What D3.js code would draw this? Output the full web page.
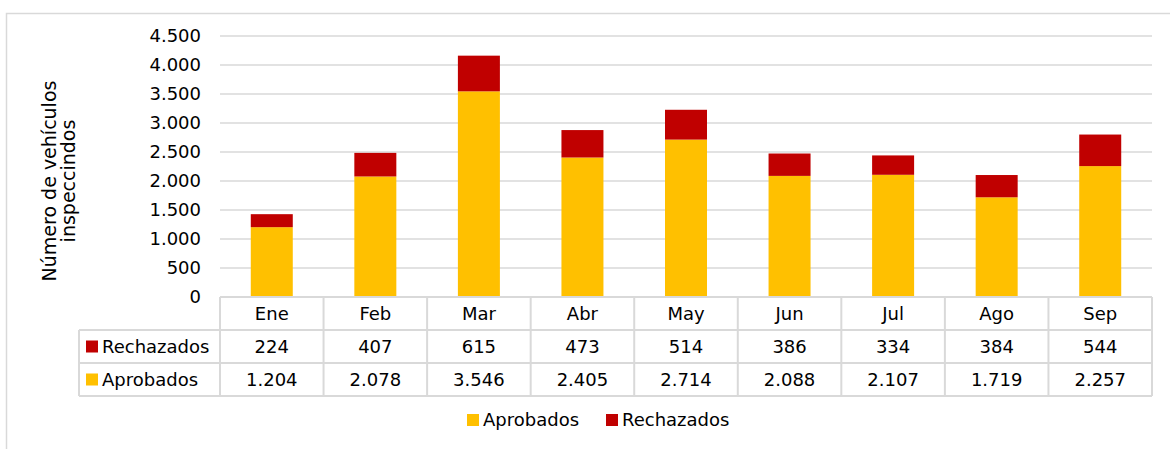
<!DOCTYPE html>
<html>
<head>
<meta charset="utf-8">
<script src="https://cdn.jsdelivr.net/npm/d3@7"></script>
<style>
  body { margin: 0; background: #fff; }
  text { font-family: "DejaVu Sans", sans-serif; fill: #000; }
</style>
</head>
<body>
<div id="chart"></div>
<script>
const months = ["Ene", "Feb", "Mar", "Abr", "May", "Jun", "Jul", "Ago", "Sep"]
const aprobados = [1204, 2078, 3546, 2405, 2714, 2088, 2107, 1719, 2257]
const rechazados = [224, 407, 615, 473, 514, 386, 334, 384, 544]
const yTicks = [0, 500, 1000, 1500, 2000, 2500, 3000, 3500, 4000, 4500]

const width = 1170, height = 449
const plot = { left: 220, right: 1152, top: 36, bottom: 297 }
const gridColor = "#d9d9d9"
const colAprob = "#ffc000", colRech = "#c00000"
const fmt = d3.formatLocale({ decimal: ",", thousands: ".", grouping: [3] }).format(",d")

let svg = d3.select("#chart").append("svg")
    .attr("width", width)
    .attr("height", height)

// outer frame
svg.append("rect")
    .attr("x", 6.5).attr("y", 13.5)
    .attr("width", 1200).attr("height", 500)
    .attr("fill", "none").attr("stroke", gridColor).attr("stroke-width", 1.5)

let x = d3.scaleBand().domain(months).range([plot.left, plot.right]).paddingInner(0).paddingOuter(0)
let y = d3.scaleLinear().domain([0, 4500]).range([plot.bottom, plot.top])

// gridlines
svg.append("g").selectAll("line")
    .data(yTicks.filter(d => d > 0))
    .enter().append("line")
    .attr("x1", plot.left).attr("x2", plot.right)
    .attr("y1", d => y(d)).attr("y2", d => y(d))
    .attr("stroke", gridColor).attr("stroke-width", 1.5)

// y tick labels
svg.append("g").selectAll("text")
    .data(yTicks)
    .enter().append("text")
    .attr("x", 201)
    .attr("y", d => y(d))
    .attr("dy", "0.35em")
    .attr("text-anchor", "end")
    .style("font-size", "18px")
    .text(d => fmt(d))

// y axis title
let yTitle = svg.append("text")
    .attr("transform", "translate(59,181) rotate(-90)")
    .attr("text-anchor", "middle")
    .style("font-size", "19px")
yTitle.append("tspan").attr("x", 0).attr("dy", "-0.15em").text("Número de vehículos")
yTitle.append("tspan").attr("x", 0).attr("dy", "1.0em").text("inspeccindos")

// bars
const barW = 42
let stacked = months.map((m, i) => ({ m, a: aprobados[i], r: rechazados[i] }))

svg.append("g").selectAll("rect")
    .data(stacked)
    .enter().append("rect")
    .attr("x", d => x(d.m) + x.bandwidth() / 2 - barW / 2)
    .attr("width", barW)
    .attr("y", d => y(d.a))
    .attr("height", d => y(0) - y(d.a))
    .attr("fill", colAprob)

svg.append("g").selectAll("rect")
    .data(stacked)
    .enter().append("rect")
    .attr("x", d => x(d.m) + x.bandwidth() / 2 - barW / 2)
    .attr("width", barW)
    .attr("y", d => y(d.a + d.r))
    .attr("height", d => y(d.a) - y(d.a + d.r))
    .attr("fill", colRech)

// data table
const rowTop = 297, rowH = 33, tableLeft = 79
let tbl = svg.append("g")
let rows = [
  { name: "Rechazados", vals: rechazados, color: colRech },
  { name: "Aprobados", vals: aprobados, color: colAprob }
]
let tableBottom = rowTop + rowH * 3

// horizontal lines
tbl.append("line").attr("x1", plot.left).attr("x2", plot.right)
    .attr("y1", rowTop).attr("y2", rowTop)
    .attr("stroke", gridColor).attr("stroke-width", 2)
;[1, 2, 3].forEach(k => {
  tbl.append("line").attr("x1", tableLeft).attr("x2", plot.right)
      .attr("y1", rowTop + rowH * k).attr("y2", rowTop + rowH * k)
      .attr("stroke", gridColor).attr("stroke-width", 2)
})
// vertical lines
tbl.append("line").attr("x1", tableLeft).attr("x2", tableLeft)
    .attr("y1", rowTop + rowH).attr("y2", tableBottom)
    .attr("stroke", gridColor).attr("stroke-width", 2)
months.forEach(m => {
  tbl.append("line").attr("x1", x(m)).attr("x2", x(m))
      .attr("y1", rowTop).attr("y2", tableBottom)
      .attr("stroke", gridColor).attr("stroke-width", 2)
})
tbl.append("line").attr("x1", plot.right).attr("x2", plot.right)
    .attr("y1", rowTop).attr("y2", tableBottom)
    .attr("stroke", gridColor).attr("stroke-width", 2)

// header
tbl.selectAll("text.head")
    .data(months)
    .enter().append("text")
    .attr("class", "head")
    .attr("x", d => x(d) + x.bandwidth() / 2)
    .attr("y", rowTop + rowH / 2)
    .attr("dy", "0.35em")
    .attr("text-anchor", "middle")
    .style("font-size", "18px")
    .text(d => d)

rows.forEach((r, k) => {
  let cy = rowTop + rowH * (k + 1) + rowH / 2
  tbl.append("rect")
      .attr("x", 86).attr("y", cy - 6)
      .attr("width", 12).attr("height", 12)
      .attr("fill", r.color)
  tbl.append("text")
      .attr("x", 102).attr("y", cy)
      .attr("dy", "0.35em")
      .style("font-size", "18px")
      .text(r.name)
  tbl.selectAll("text.v" + k)
      .data(r.vals)
      .enter().append("text")
      .attr("class", "v" + k)
      .attr("x", (d, i) => x(months[i]) + x.bandwidth() / 2)
      .attr("y", cy)
      .attr("dy", "0.35em")
      .attr("text-anchor", "middle")
      .style("font-size", "18px")
      .text(d => fmt(d))
})

// legend
let legend = [
  { name: "Aprobados", color: colAprob, x: 467 },
  { name: "Rechazados", color: colRech, x: 606 }
]
legend.forEach(l => {
  svg.append("rect").attr("x", l.x).attr("y", 414)
      .attr("width", 12).attr("height", 12).attr("fill", l.color)
  svg.append("text").attr("x", l.x + 16).attr("y", 420)
      .attr("dy", "0.35em")
      .style("font-size", "18px")
      .text(l.name)
})
</script>
</body>
</html>
